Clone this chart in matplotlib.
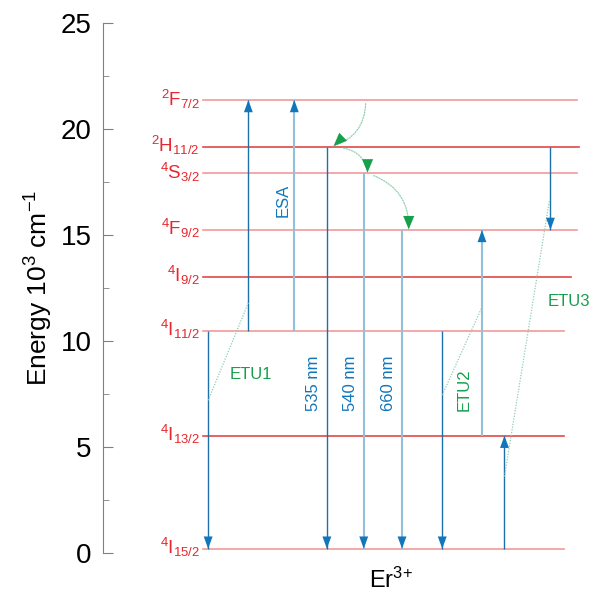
import matplotlib
matplotlib.use("Agg")
import matplotlib.pyplot as plt

# energy levels of Er3+ (10^3 cm^-1)
level_names = ["$^{2}$F$_{7/2}$", "$^{2}$H$_{11/2}$", "$^{4}$S$_{3/2}$", "$^{4}$F$_{9/2}$",
               "$^{4}$I$_{9/2}$", "$^{4}$I$_{11/2}$", "$^{4}$I$_{13/2}$", "$^{4}$I$_{15/2}$"]
level_energy = [21.37, 19.17, 17.92, 15.24, 13.02, 10.49, 5.53, 0.2]
level_end = [99.0, 99.4, 99.0, 99.0, 97.7, 96.4, 96.4, 96.4]
level_dark = [False, True, False, False, True, False, True, False]

# transitions: column, start level index, end level index, light/dark shaft
arrow_x = [22.0, 30.4, 40.0, 46.8, 54.5, 62.5, 70.9, 79.2, 83.9, 93.5]
arrow_from = [5, 5, 5, 1, 2, 3, 5, 6, 7, 1]
arrow_to = [7, 0, 0, 7, 7, 7, 7, 3, 6, 3]
arrow_light = [False, False, True, False, True, True, False, True, False, False]

# energy transfer (dotted) lines
etu_x0 = [22.0, 70.9, 83.9]
etu_y0 = [7.2, 7.45, 3.6]
etu_x1 = [30.4, 79.2, 93.3]
etu_y1 = [11.8, 11.6, 16.65]

# non-radiative relaxation curves (start -> end)
relax_start = [(54.9, 21.2), (50.3, 19.1), (56.6, 17.8)]
relax_end = [(48.2, 19.2), (55.3, 17.95), (63.9, 15.27)]
relax_rad = [-0.35, -0.35, -0.35]

# text labels
nm_labels = ["535 nm", "540 nm", "660 nm"]
nm_x = [44.0, 51.8, 59.7]
nm_y = [8.0, 8.0, 8.0]

plt.rcParams["font.family"] = ["Liberation Sans", "DejaVu Sans"]
plt.rcParams["mathtext.default"] = "regular"

RED = "#e8262e"
PINK = "#f29a9a"
DARKRED = "#e04848"
BLUE = "#1f6fa8"
LBLUE = "#94bfd9"
HEAD = "#1276bb"
GREEN = "#16a04c"
LGREEN = "#8fcfae"

fig = plt.figure(figsize=(5.91, 5.92), dpi=100)
ax = fig.add_axes([0.174, 0.066, 0.81, 0.895])
ax.set_xlim(0, 100)
ax.set_ylim(0, 25)

for name, e, x1, dark in zip(level_names, level_energy, level_end, level_dark):
    ax.plot([21.0, x1], [e, e], color=DARKRED if dark else PINK, lw=1.2, zorder=1)
    ax.text(20.3, e + 0.05, name, color=RED, fontsize=13.5, ha="right", va="center")

for x, i0, i1, light in zip(arrow_x, arrow_from, arrow_to, arrow_light):
    y0, y1 = level_energy[i0], level_energy[i1]
    ax.plot([x, x], [y0, y1], color=LBLUE if light else BLUE,
            lw=1.5 if light else 1.0, zorder=2, solid_capstyle="butt")
    step = 0.6 if y1 > y0 else -0.6
    ax.annotate("", xy=(x, y1), xytext=(x, y1 - step),
                arrowprops=dict(arrowstyle="-|>,head_length=0.55,head_width=0.2",
                                mutation_scale=16, color=HEAD, lw=0,
                                shrinkA=0, shrinkB=0), zorder=3)

for x0, y0, x1, y1 in zip(etu_x0, etu_y0, etu_x1, etu_y1):
    ax.plot([x0, x1], [y0, y1], color=LGREEN, lw=0.9, ls=(0, (1, 1.2)), zorder=2)

for (sx, sy), (ex, ey), rad in zip(relax_start, relax_end, relax_rad):
    ax.annotate("", xy=(ex, ey), xytext=(sx, sy),
                arrowprops=dict(arrowstyle="-", color=LGREEN, lw=0.9, ls=(0, (1, 1.2)),
                                connectionstyle=f"arc3,rad={rad}",
                                shrinkA=0, shrinkB=0), zorder=2)

# green arrow heads at the end of the relaxation curves
head_dx = [1.6, 0.0, 0.0]
head_dy = [0.35, 0.6, 0.6]
for (ex, ey), dx, dy in zip(relax_end, head_dx, head_dy):
    ax.annotate("", xy=(ex, ey), xytext=(ex + dx, ey + dy),
                arrowprops=dict(arrowstyle="-|>,head_length=0.6,head_width=0.25",
                                mutation_scale=16, color=GREEN, lw=0,
                                shrinkA=0, shrinkB=0), zorder=3)

for lab, x, y in zip(nm_labels, nm_x, nm_y):
    ax.text(x, y, lab, color=HEAD, fontsize=12, rotation=90, ha="center", va="center")
ax.text(37.7, 16.65, "ESA", color=HEAD, fontsize=12, rotation=90, ha="center", va="center")
ax.text(75.5, 7.7, "ETU2", color=GREEN, fontsize=12, rotation=90, ha="center", va="center")
ax.text(31.0, 8.4, "ETU1", color=GREEN, fontsize=12, ha="center", va="center")
ax.text(97.3, 11.84, "ETU3", color=GREEN, fontsize=12, ha="center", va="center", clip_on=False)
ax.text(60.2, -1.3, "Er$^{3{+}}$", fontsize=17, ha="center", va="center", clip_on=False)

for s in ["top", "right", "bottom"]:
    ax.spines[s].set_visible(False)
ax.spines["left"].set_color("#808080")
ax.set_xticks([])
ax.set_yticks([0, 5, 10, 15, 20, 25])
ax.set_yticks([2.5, 7.5, 12.5, 17.5, 22.5], minor=True)
ax.tick_params(axis="y", which="major", direction="in", length=7, color="#808080",
               labelsize=20, pad=8)
ax.tick_params(axis="y", which="minor", direction="in", length=4.5, color="#808080")
ax.set_ylabel("Energy 10$^{3}$ cm$^{-1}$", fontsize=19, labelpad=4)

fig.savefig("out.png", dpi=100)
